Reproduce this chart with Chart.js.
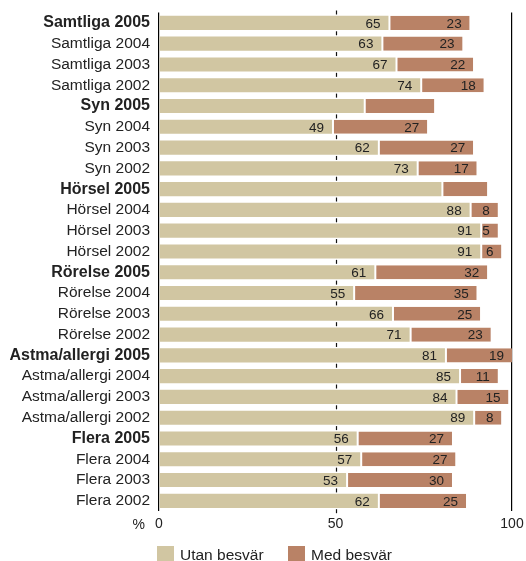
<!DOCTYPE html>
<html>
<head>
<meta charset="utf-8">
<script src="https://cdn.jsdelivr.net/npm/chart.js@4/dist/chart.umd.min.js"></script>
<style>
  html, body { margin: 0; padding: 0; background: #fff; overflow: hidden; }
  #wrap { width: 526px; height: 561px; position: relative; }
</style>
</head>
<body>
<div id="wrap"><canvas id="chart"></canvas></div>
<script>
// Rows, top to bottom
const categories = [
  'Samtliga 2005', 'Samtliga 2004', 'Samtliga 2003', 'Samtliga 2002',
  'Syn 2005', 'Syn 2004', 'Syn 2003', 'Syn 2002',
  'Hörsel 2005', 'Hörsel 2004', 'Hörsel 2003', 'Hörsel 2002',
  'Rörelse 2005', 'Rörelse 2004', 'Rörelse 2003', 'Rörelse 2002',
  'Astma/allergi 2005', 'Astma/allergi 2004', 'Astma/allergi 2003', 'Astma/allergi 2002',
  'Flera 2005', 'Flera 2004', 'Flera 2003', 'Flera 2002'
];

// Share (%) without and with problems
const utanBesvar = [65, 63, 67, 74, 58, 49, 62, 73, 80, 88, 91, 91, 61, 55, 66, 71, 81, 85, 84, 89, 56, 57, 53, 62];
const medBesvar  = [23, 23, 22, 18, 20, 27, 27, 17, 13,  8,  5,  6, 32, 35, 25, 23, 19, 11, 15,  8, 27, 27, 30, 25];

// Rows whose bars carry no value labels
const unlabeledRows = ['Syn 2005', 'Hörsel 2005'];

const xTicks = [0, 50, 100];
const seriesNames = ['Utan besvär', 'Med besvär'];

const FONT = '"Liberation Sans", Arial, Helvetica, sans-serif';
const TEXT = '#222';
const BEIGE = '#d1c6a2';
const BROWN = '#b98266';

// Short dashes at 50 % between rows, drawn under the bars
const midlinePlugin = {
  id: 'midline',
  beforeDatasetsDraw(chart) {
    const { ctx } = chart;
    const xs = chart.scales.x, ys = chart.scales.y;
    const x = Math.round(xs.getPixelForValue(50)) + 0.5;
    const n = categories.length;
    ctx.save();
    ctx.strokeStyle = '#111';
    ctx.lineWidth = 1.2;
    for (let i = 0; i <= n; i++) {
      const y = ys.getPixelForValue(i - 0.5);
      ctx.beginPath();
      ctx.moveTo(x, y - 2);
      ctx.lineTo(x, y + 2);
      ctx.stroke();
    }
    ctx.restore();
  }
};

// Value labels at the inner end of each segment, "%" unit and legend
const annotatePlugin = {
  id: 'annotate',
  afterDatasetsDraw(chart) {
    const { ctx } = chart;
    ctx.save();
    ctx.font = '13.5px ' + FONT;
    ctx.fillStyle = TEXT;
    ctx.textAlign = 'right';
    ctx.textBaseline = 'middle';
    chart.data.datasets.forEach((ds, di) => {
      const meta = chart.getDatasetMeta(di);
      meta.data.forEach((bar, i) => {
        if (unlabeledRows.includes(categories[i])) return;
        ctx.fillText(String(ds.data[i]), bar.x - 8, bar.y + 1);
      });
    });
    ctx.restore();
  },
  afterDraw(chart) {
    const { ctx } = chart;
    const xs = chart.scales.x;
    ctx.save();
    ctx.fillStyle = TEXT;
    ctx.font = '14px ' + FONT;
    ctx.textBaseline = 'middle';
    ctx.textAlign = 'right';
    ctx.fillText('%', xs.getPixelForValue(0) - 14, 525);

    // legend
    const colors = [BEIGE, BROWN];
    const starts = [157, 288];
    ctx.font = '15.5px ' + FONT;
    ctx.textAlign = 'left';
    seriesNames.forEach((name, k) => {
      ctx.fillStyle = colors[k];
      ctx.fillRect(starts[k], 546, 17, 17);
      ctx.fillStyle = TEXT;
      ctx.fillText(name, starts[k] + 23, 555.5);
    });
    ctx.restore();
  }
};

new Chart(document.getElementById('chart'), {
  type: 'bar',
  data: {
    labels: categories,
    datasets: [
      {
        label: seriesNames[0],
        data: utanBesvar,
        backgroundColor: BEIGE,
        borderWidth: 0,
        barPercentage: 0.68,
        categoryPercentage: 1
      },
      {
        label: seriesNames[1],
        data: medBesvar,
        backgroundColor: BROWN,
        borderColor: '#ffffff',
        borderWidth: { left: 2, right: 0, top: 0, bottom: 0 },
        borderSkipped: false,
        barPercentage: 0.68,
        categoryPercentage: 1
      }
    ]
  },
  options: {
    indexAxis: 'y',
    responsive: true,
    maintainAspectRatio: false,
    animation: false,
    layout: { padding: { top: 12.5, right: 14, bottom: 23, left: 0 } },
    plugins: {
      legend: { display: false },
      tooltip: { enabled: false }
    },
    scales: {
      x: {
        stacked: true,
        min: 0,
        max: 100,
        afterBuildTicks(scale) { scale.ticks = xTicks.map(v => ({ value: v })); },
        afterFit(scale) { scale.paddingLeft = 0; scale.paddingRight = 0; },
        ticks: {
          color: TEXT,
          font: { family: FONT, size: 14 },
          padding: 5,
          maxRotation: 0
        },
        grid: {
          drawTicks: false,
          lineWidth: 1.2,
          color: (c) => (c.tick && c.tick.value === 50 ? 'rgba(0,0,0,0)' : '#000')
        },
        border: { display: false }
      },
      y: {
        stacked: true,
        afterFit(scale) {
          scale.width = 159;
          scale.paddingTop = 0;
          scale.paddingBottom = 0;
        },
        ticks: {
          color: TEXT,
          padding: 9,
          autoSkip: false,
          font: (c) => {
            const bold = categories[c.index] && categories[c.index].endsWith('2005');
            return { family: FONT, size: bold ? 16 : 15.5, weight: bold ? 'bold' : 'normal' };
          }
        },
        grid: { display: false, drawTicks: false },
        border: { display: false }
      }
    }
  },
  plugins: [midlinePlugin, annotatePlugin]
});
</script>
</body>
</html>
